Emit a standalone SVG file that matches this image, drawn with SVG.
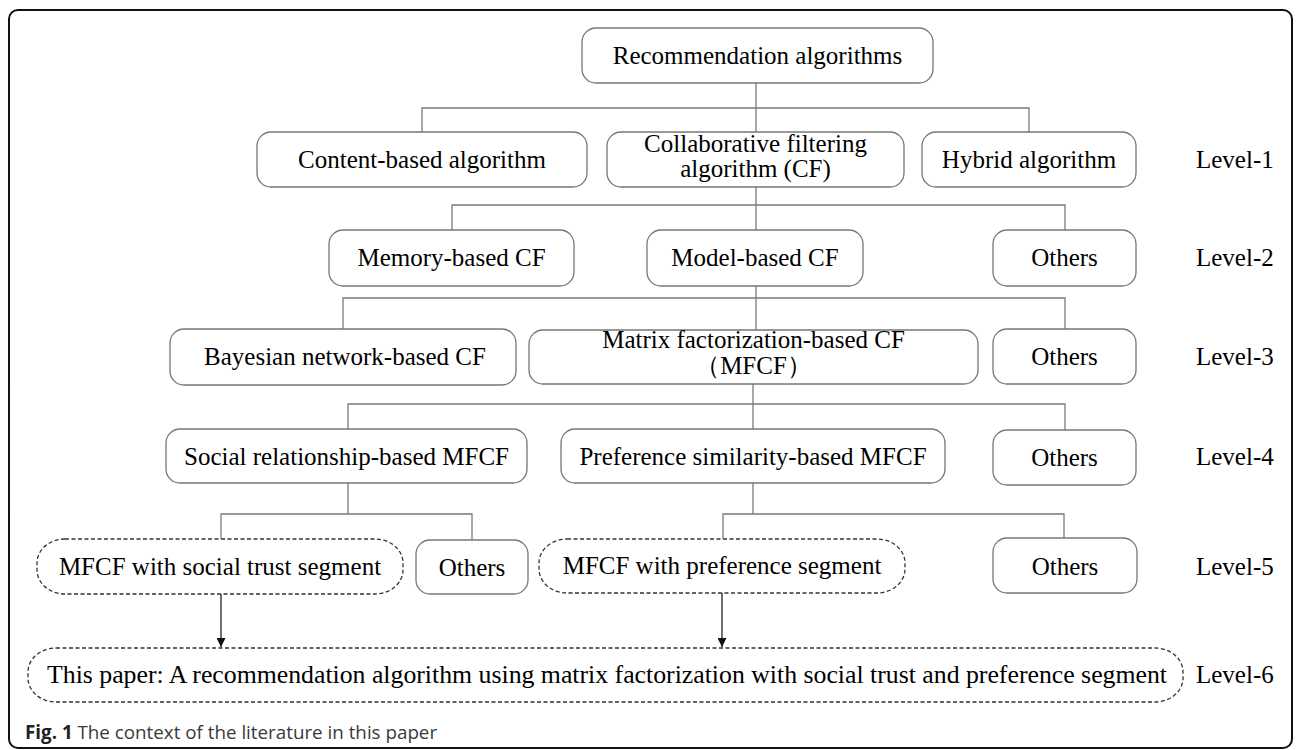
<svg xmlns="http://www.w3.org/2000/svg" width="1296" height="750" viewBox="0 0 1296 750">
<style>
.bx{fill:#fff;stroke:#777;stroke-width:1.3}
.dbx{fill:#fff;stroke:#333;stroke-width:1.3;stroke-dasharray:4 2.5}
.t{font-family:"Liberation Serif","Times New Roman",serif;font-size:25px;fill:#000;text-anchor:middle}
.lv{font-family:"Liberation Serif","Times New Roman",serif;font-size:25px;fill:#000}
.c{fill:none;stroke:#7a7a7a;stroke-width:1.3}
.a{fill:none;stroke:#222;stroke-width:1.3}
.cap{font-family:"Open Sans","Noto Sans",sans-serif;font-size:18.8px;fill:#3a3a3a}
</style>
<defs>
<marker id="ah" viewBox="0 0 10 10" refX="10" refY="5" markerWidth="9" markerHeight="9" markerUnits="userSpaceOnUse" orient="auto">
<path d="M0,0 L10,5 L0,10 z" fill="#111"/>
</marker>
</defs>
<rect x="9" y="10" width="1283" height="738" rx="9" fill="#fff" stroke="#111" stroke-width="2"/>

<g id="connectors">
<path class="c" d="M756,83 V108 M422,132 V108 H1029 V132 M756,108 V132"/>
<path class="c" d="M756,187 V205 M452,230 V205 H1065 V230 M756,205 V230"/>
<path class="c" d="M756,286 V330 M343,329 V298 H1065 V329"/>
<path class="c" d="M753,384 V429 M348,429 V404 H1065 V430"/>
<path class="c" d="M348,483 V514 M221,539 V514 H472 V540"/>
<path class="c" d="M753,483 V514 M723,539 V514 H1064 V538"/>
<path class="a" d="M221,594 V647" marker-end="url(#ah)"/>
<path class="a" d="M722,593 V647" marker-end="url(#ah)"/>
</g>

<g id="n-root"><rect class="bx" x="582" y="28" width="351" height="55" rx="14"/><text class="t" x="757.5" y="64">Recommendation algorithms</text></g>

<g id="n-content"><rect class="bx" x="257" y="132" width="330" height="55" rx="14"/><text class="t" x="422" y="168">Content-based algorithm</text></g>
<g id="n-cf"><rect class="bx" x="607" y="132" width="297" height="55" rx="14"/><text class="t" x="755.5" y="152">Collaborative filtering</text><text class="t" x="755.5" y="177">algorithm (CF)</text></g>
<g id="n-hybrid"><rect class="bx" x="922" y="132" width="214" height="55" rx="14"/><text class="t" x="1029" y="168">Hybrid algorithm</text></g>

<g id="n-memory"><rect class="bx" x="329" y="230" width="245" height="56" rx="14"/><text class="t" x="451.5" y="266">Memory-based CF</text></g>
<g id="n-model"><rect class="bx" x="647" y="230" width="216" height="56" rx="14"/><text class="t" x="755" y="266">Model-based CF</text></g>
<g id="n-others2"><rect class="bx" x="993" y="230" width="143" height="56" rx="14"/><text class="t" x="1064.5" y="266">Others</text></g>

<g id="n-bayes"><rect class="bx" x="170" y="329" width="346" height="56" rx="14"/><text class="t" x="345" y="365">Bayesian network-based CF</text></g>
<g id="n-mfcf"><rect class="bx" x="529" y="330" width="449" height="54" rx="14"/><text class="t" x="753.5" y="348">Matrix factorization-based CF</text><text class="t" x="753.5" y="374" font-family="'Liberation Serif','Noto Sans CJK SC',serif">（MFCF）</text></g>
<g id="n-others3"><rect class="bx" x="993" y="329" width="143" height="55" rx="14"/><text class="t" x="1064.5" y="365">Others</text></g>

<g id="n-social"><rect class="bx" x="166" y="429" width="361" height="54" rx="14"/><text class="t" x="346.5" y="465">Social relationship-based MFCF</text></g>
<g id="n-pref"><rect class="bx" x="561" y="429" width="384" height="54" rx="14"/><text class="t" x="753" y="465">Preference similarity-based MFCF</text></g>
<g id="n-others4"><rect class="bx" x="993" y="430" width="143" height="55" rx="14"/><text class="t" x="1064.5" y="466">Others</text></g>

<g id="n-socialseg"><rect class="dbx" x="37" y="539" width="366" height="55" rx="28" ry="24"/><text class="t" x="220" y="575">MFCF with social trust segment</text></g>
<g id="n-others5a"><rect class="bx" x="416" y="540" width="112" height="54" rx="14"/><text class="t" x="472" y="576">Others</text></g>
<g id="n-prefseg"><rect class="dbx" x="539" y="539" width="366" height="54" rx="28" ry="24"/><text class="t" x="722" y="574">MFCF with preference segment</text></g>
<g id="n-others5b"><rect class="bx" x="993" y="538" width="144" height="55" rx="14"/><text class="t" x="1065" y="575">Others</text></g>

<g id="n-paper"><rect class="dbx" x="28" y="648" width="1155" height="54" rx="28" ry="24"/><text class="t" x="607" y="683" textLength="1120" lengthAdjust="spacingAndGlyphs">This paper: A recommendation algorithm using matrix factorization with social trust and preference segment</text></g>

<g id="levels">
<text class="lv" x="1196" y="168">Level-1</text>
<text class="lv" x="1196" y="266">Level-2</text>
<text class="lv" x="1196" y="365">Level-3</text>
<text class="lv" x="1196" y="465">Level-4</text>
<text class="lv" x="1196" y="575">Level-5</text>
<text class="lv" x="1196" y="683">Level-6</text>
</g>

<text class="cap" x="25" y="739"><tspan font-weight="bold" fill="#222">Fig. 1</tspan> The context of the literature in this paper</text>
</svg>
